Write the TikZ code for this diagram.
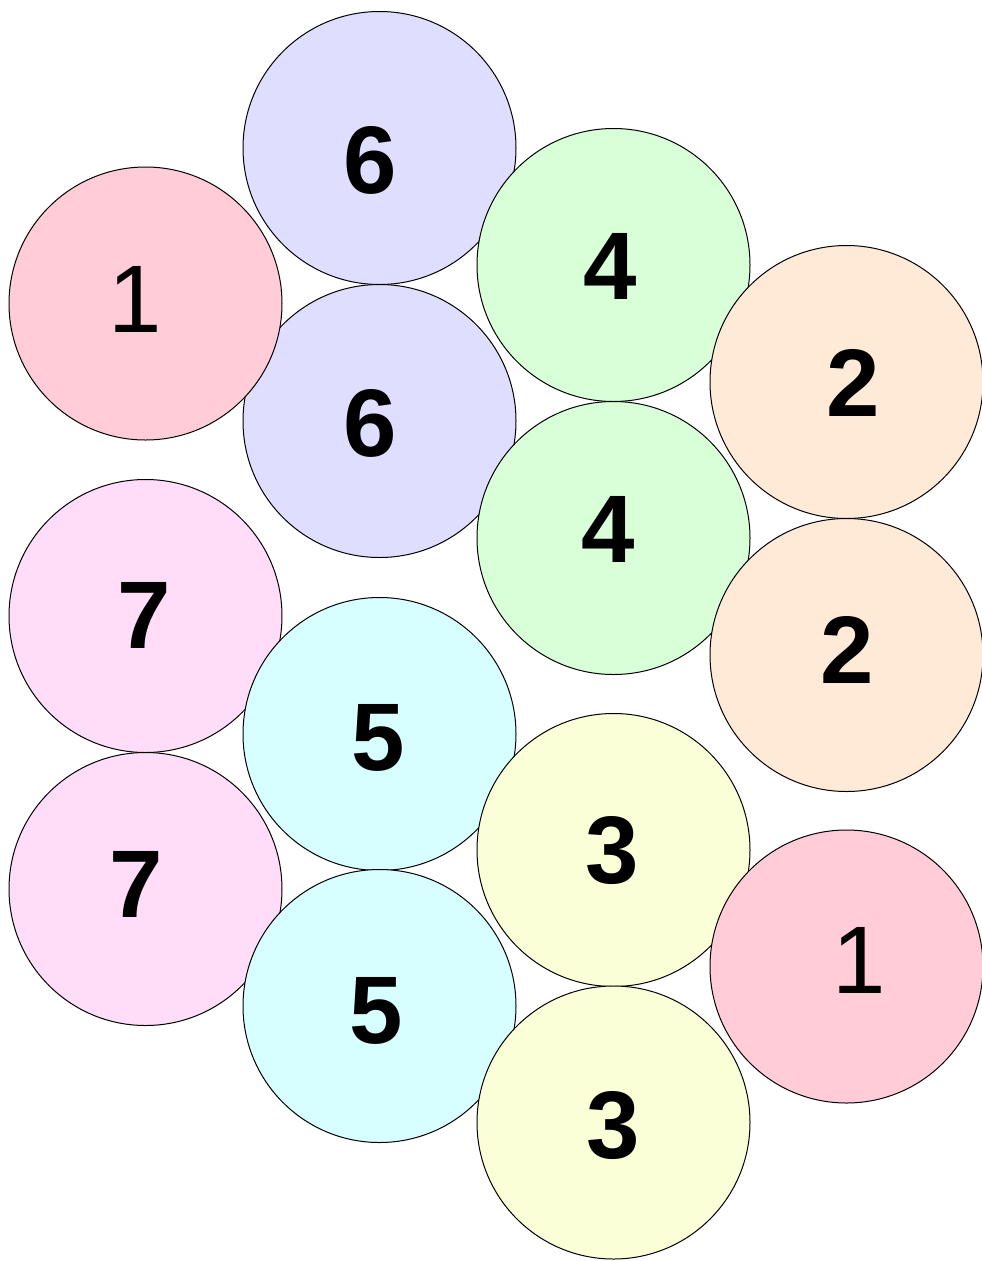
\documentclass[tikz,border=0pt]{standalone}
\usepackage{fontspec}
\setmainfont{Liberation Sans}

\definecolor{pinkball}{RGB}{255,204,216}
\definecolor{lilacball}{RGB}{224,222,255}
\definecolor{greenball}{RGB}{216,255,216}
\definecolor{peachball}{RGB}{255,234,216}
\definecolor{mauveball}{RGB}{255,221,248}
\definecolor{cyanball}{RGB}{216,255,255}
\definecolor{lemonball}{RGB}{250,255,216}

\tikzset{
  ball/.style={circle, draw=black, line width=0.75pt, minimum size=204.75pt, inner sep=0pt},
  num/.style={anchor=base, inner sep=0pt, font=\fontsize{72}{80}\selectfont\bfseries},
  numthin/.style={anchor=base, inner sep=0pt, font=\fontsize{72}{80}\selectfont},
}

\begin{document}
\begin{tikzpicture}[x=0.75pt,y=0.75pt,yscale=-1,xscale=1]
\useasboundingbox (0,0) rectangle (982,1261);

%Circles
\node [ball, fill=lilacball] (sixA) at (379.5,148) {};
\node [ball, fill=lilacball] (sixB) at (379.5,421) {};
\node [ball, fill=greenball] (fourA) at (613.5,265) {};
\node [ball, fill=greenball] (fourB) at (613.5,538) {};
\node [ball, fill=peachball] (twoA) at (846.5,382) {};
\node [ball, fill=peachball] (twoB) at (846.5,655) {};
\node [ball, fill=mauveball] (sevenA) at (145.5,616) {};
\node [ball, fill=mauveball] (sevenB) at (145.5,889) {};
\node [ball, fill=cyanball] (fiveA) at (379.5,734) {};
\node [ball, fill=cyanball] (fiveB) at (379.5,1006) {};
\node [ball, fill=lemonball] (threeA) at (613.5,850) {};
\node [ball, fill=lemonball] (threeB) at (613.5,1122.5) {};
\node [ball, fill=pinkball] (oneA) at (145.5,303.5) {};
\node [ball, fill=pinkball] (oneB) at (846.5,966.5) {};

% Text Node
\node [num] (sixAl) at (370,193) {6};
\node [num] (sixBl) at (370,456) {6};
\node [num] (fourAl) at (610,299) {4};
\node [num] (fourBl) at (608,562.5) {4};
\node [num] (twoAl) at (853.5,416.5) {2};
\node [num] (twoBl) at (847.5,683) {2};
\node [num] (sevenAl) at (144,648.5) {7};
\node [num] (sevenBl) at (136.5,917) {7};
\node [num] (fiveAl) at (378,770.5) {5};
\node [num] (fiveBl) at (376,1043) {5};
\node [num] (threeAl) at (612,883) {3};
\node [num] (threeBl) at (613.5,1158) {3};
\node [numthin] (oneAl) at (135.5,332) {1};
\node [numthin] (oneBl) at (859,993.5) {1};

\end{tikzpicture}
\end{document}
